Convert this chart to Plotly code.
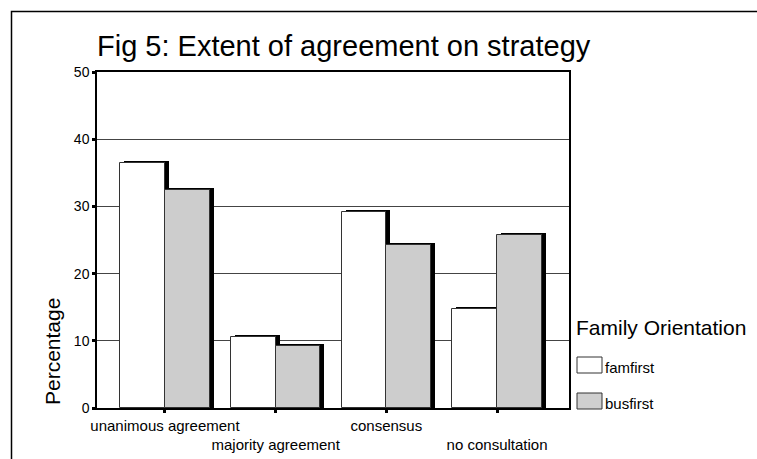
import plotly.graph_objects as go

# Extent of agreement on strategy, by family orientation (percent of firms)
categories = ["unanimous agreement", "majority agreement", "consensus", "no consultation"]
famfirst = [36.5, 10.6, 29.1, 14.7]
busfirst = [32.5, 9.3, 24.2, 25.8]
y_ticks = [0, 10, 20, 30, 40, 50]

FONT = "Liberation Sans, Arial, sans-serif"
W, H = 757, 459
ML, MR, MT, MB = 97, 188, 72, 51
PW, PH = W - ML - MR, H - MT - MB

X_RANGE = [-0.614, 3.650]
Y_RANGE = [0, 50]

# drop-shadow offset of each bar, converted from pixels to data units
SHADOW_DX = 4 * (X_RANGE[1] - X_RANGE[0]) / PW
SHADOW_DY = 2 * (Y_RANGE[1] - Y_RANGE[0]) / PH

BAR_W = 0.405
xs = list(range(len(categories)))


def px(x):
    return (x - ML) / PW


def py(y):
    return (H - MB - y) / PH


fig = go.Figure()

# famfirst: shadow then bar
fig.add_trace(go.Bar(
    x=xs, y=[v + SHADOW_DY for v in famfirst], offset=-BAR_W + SHADOW_DX, width=BAR_W,
    marker=dict(color="black", line=dict(width=0)), showlegend=False, hoverinfo="skip"))
fig.add_trace(go.Bar(
    x=xs, y=famfirst, offset=-BAR_W, width=BAR_W, name="famfirst",
    marker=dict(color="white", line=dict(color="#333", width=1)), showlegend=False))

# busfirst: shadow then dotted bar
fig.add_trace(go.Bar(
    x=xs, y=[v + SHADOW_DY for v in busfirst], offset=SHADOW_DX, width=BAR_W,
    marker=dict(color="black", line=dict(width=0)), showlegend=False, hoverinfo="skip"))
fig.add_trace(go.Bar(
    x=xs, y=busfirst, offset=0, width=BAR_W, name="busfirst",
    marker=dict(color="white", line=dict(color="#333", width=1),
                pattern=dict(shape=".", fgcolor="#555", bgcolor="#eeeeee",
                             size=2, solidity=0.5)),
    showlegend=False))

tick_text = [c if i % 2 == 0 else "<br>" + c for i, c in enumerate(categories)]

fig.update_layout(
    width=W, height=H,
    margin=dict(l=ML, r=MR, t=MT, b=MB, pad=0),
    paper_bgcolor="white", plot_bgcolor="white",
    barmode="overlay", bargap=0,
    font=dict(family=FONT, color="black"),
    showlegend=False,
    xaxis=dict(
        range=X_RANGE, tickmode="array", tickvals=xs, ticktext=tick_text,
        tickangle=0, automargin=False,
        showgrid=False, zeroline=False,
        showline=True, linecolor="black", linewidth=1.5, mirror=True,
        ticks="outside", ticklen=3, tickwidth=3, tickcolor="black",
        tickfont=dict(size=15, family=FONT, color="black"),
    ),
    yaxis=dict(
        range=Y_RANGE, tickmode="array", tickvals=y_ticks, automargin=False,
        showgrid=True, gridcolor="#444", gridwidth=1, zeroline=False,
        showline=True, linecolor="black", linewidth=1.5, mirror=True,
        ticks="outside", ticklen=3, tickwidth=3, tickcolor="black",
        tickfont=dict(size=14, family=FONT, color="black"),
    ),
    title=dict(text="Fig 5: Extent of agreement on strategy",
               font=dict(size=29, family=FONT, color="black"),
               x=ML / W, xanchor="left", y=1 - 46 / H, yanchor="middle"),
)

# outer frame
fig.add_shape(type="rect", xref="paper", yref="paper",
              x0=px(11.5), x1=px(820), y0=py(11.5), y1=py(520),
              line=dict(color="black", width=1.5), fillcolor="rgba(0,0,0,0)")

# y-axis title
fig.add_annotation(text="Percentage", xref="paper", yref="paper",
                   x=px(52), y=py(352), textangle=-90,
                   xanchor="center", yanchor="middle", showarrow=False,
                   font=dict(size=21, family=FONT, color="black"))

# legend
fig.add_annotation(text="Family Orientation", xref="paper", yref="paper",
                   x=px(574), y=py(327), xanchor="left", yanchor="middle",
                   showarrow=False, font=dict(size=21, family=FONT, color="black"))
legend_items = [("famfirst", 357, "white"), ("busfirst", 393, "#cfcfcf")]
for label, top, fill in legend_items:
    fig.add_shape(type="rect", xref="paper", yref="paper",
                  x0=px(577), x1=px(602), y0=py(top), y1=py(top + 16),
                  line=dict(color="#333", width=1), fillcolor=fill)
    fig.add_annotation(text=label, xref="paper", yref="paper",
                       x=px(603), y=py(top + 10), xanchor="left", yanchor="middle",
                       showarrow=False, font=dict(size=15, family=FONT, color="black"))

fig.write_html("out.html")
